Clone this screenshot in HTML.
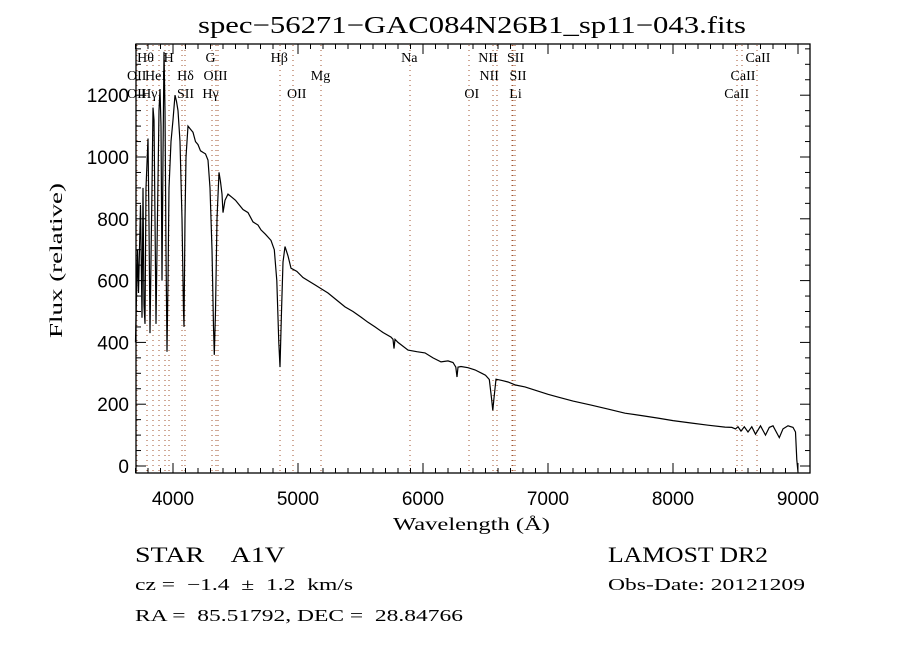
<!DOCTYPE html>
<html><head><meta charset="utf-8"><style>
html,body{margin:0;padding:0;background:#fff;}
svg{display:block;}
</style></head><body>
<svg id="chart" width="900" height="650" xmlns="http://www.w3.org/2000/svg">
<rect width="900" height="650" fill="#fff"/>
<text x="472" y="33" text-anchor="middle" font-family="Liberation Serif, serif" font-size="24" textLength="548" lengthAdjust="spacingAndGlyphs">spec−56271−GAC084N26B1_sp11−043.fits</text>
<g id="lines"></g>
<g id="labels" font-family="Liberation Serif, serif" font-size="14"></g>
<polyline id="spec" fill="none" stroke="#000" stroke-width="1.2"/>
<rect x="136" y="44" width="674" height="429" fill="none" stroke="#000" stroke-width="1.3"/>
<g id="axes"></g>
<text x="393" y="530" textLength="157" lengthAdjust="spacingAndGlyphs" font-family="Liberation Serif, serif" font-size="18">Wavelength (Å)</text>
<text transform="translate(62,338) rotate(-90)" textLength="155" lengthAdjust="spacingAndGlyphs" font-family="Liberation Serif, serif" font-size="18">Flux (relative)</text>
<text x="135" y="562" textLength="150" lengthAdjust="spacingAndGlyphs" xml:space="preserve" font-family="Liberation Serif, serif" font-size="22">STAR    A1V</text>
<text x="608" y="562" textLength="160" lengthAdjust="spacingAndGlyphs" font-family="Liberation Serif, serif" font-size="22">LAMOST DR2</text>
<text x="135" y="590" textLength="218" lengthAdjust="spacingAndGlyphs" xml:space="preserve" font-family="Liberation Serif, serif" font-size="17">cz =  −1.4  ±  1.2  km/s</text>
<text x="608" y="590" textLength="197" lengthAdjust="spacingAndGlyphs" font-family="Liberation Serif, serif" font-size="17">Obs-Date: 20121209</text>
<text x="135" y="621" textLength="328" lengthAdjust="spacingAndGlyphs" font-family="Liberation Serif, serif" font-size="17" xml:space="preserve">RA =  85.51792, DEC =  28.84766</text>
</svg>
<script>
const waves=[3700,3716,3724,3740,3752,3760,3768,3776,3784,3800,3808,3816,3832,3840,3848,3856,3864,3872,3888,3896,3904,3912,3920,3928,3936,3944,3952,3960,3968,3984,4000,4016,4028,4040,4056,4072,4084,4088,4096,4104,4120,4140,4160,4180,4200,4220,4240,4260,4280,4296,4312,4324,4330,4340,4352,4368,4380,4392,4400,4416,4440,4470,4500,4520,4560,4600,4640,4680,4704,4740,4784,4810,4830,4846,4856,4868,4880,4896,4920,4944,4990,5040,5100,5136,5200,5240,5300,5376,5440,5504,5560,5616,5680,5744,5760,5768,5776,5800,5880,5950,6016,6080,6144,6200,6240,6262,6272,6280,6304,6360,6416,6470,6500,6530,6548,6558,6568,6584,6630,6680,6740,6816,6900,7000,7080,7200,7344,7480,7616,7750,7880,8000,8144,8280,8416,8470,8500,8520,8544,8570,8600,8630,8660,8700,8740,8770,8800,8850,8880,8920,8960,8980,8990,9000];
const fluxes=[400,700,560,845,480,900,520,460,900,1060,780,430,900,1160,1120,800,460,700,1150,1220,1100,600,1000,1340,1150,700,370,600,900,1050,1120,1200,1180,1150,1050,800,500,450,800,1000,1100,1090,1080,1050,1040,1020,1015,1010,990,900,700,450,360,500,800,950,920,880,820,860,880,870,860,850,830,820,790,780,764,750,730,700,600,400,320,500,660,710,680,640,630,610,595,586,570,560,540,515,500,482,465,450,432,417,410,380,410,400,375,370,366,350,337,340,335,320,288,320,322,318,311,300,294,280,220,180,220,281,277,272,262,256,245,232,223,210,197,184,171,163,155,147,139,132,126,125,120,127,113,127,110,127,103,130,100,125,130,92,120,130,125,110,20,-20];
const lineWaves=[3712,3792,3840,3888,3936,3968,4072,4096,4312,4344,4360,4856,4960,5184,5896,6368,6560,6592,6712,6720,6736,8512,8552,8672];
const labelNames=["Hθ","H","G","Hβ","Na","NII","SII","CaII","OII","HeI","Hδ","OIII","Mg","NII","SII","CaII","OII","Hγ","SII","Hγ","OII","OI","Li","CaII"];
const labelWaves=[3780,3965,4300,4850,5890,6520,6740,8680,3710,3860,4100,4340,5180,6530,6760,8560,3710,3810,4100,4300,4990,6390,6740,8510];
const labelRows=[0,0,0,0,0,0,0,0,1,1,1,1,1,1,1,1,2,2,2,2,2,2,2,2];
const xTicks=[4000,5000,6000,7000,8000,9000];
const yTicks=[0,200,400,600,800,1000,1200];
const NS='http://www.w3.org/2000/svg';
const X=w=>173+(w-4000)*0.125;
const Y=f=>466-f*0.309;
const clampY=y=>Math.max(44,Math.min(473,y));
document.getElementById('spec').setAttribute('points',waves.map((w,i)=>X(w).toFixed(1)+','+clampY(Y(fluxes[i])).toFixed(1)).join(' '));
const lg=document.getElementById('lines');
lineWaves.forEach(w=>{const l=document.createElementNS(NS,'line');
l.setAttribute('x1',X(w));l.setAttribute('x2',X(w));l.setAttribute('y1',45);l.setAttribute('y2',472);
l.setAttribute('stroke','#a0522d');l.setAttribute('stroke-width','1');l.setAttribute('stroke-dasharray','1,4');


lg.appendChild(l);});
const lb=document.getElementById('labels');
labelNames.forEach((n,i)=>{const t=document.createElementNS(NS,'text');
t.setAttribute('x',X(labelWaves[i]));t.setAttribute('y',62+labelRows[i]*18);t.setAttribute('text-anchor','middle');
t.textContent=n;


lb.appendChild(t);});
const ax=document.getElementById('axes');
function ln(x1,y1,x2,y2){const l=document.createElementNS(NS,'line');l.setAttribute('x1',x1);l.setAttribute('y1',y1);l.setAttribute('x2',x2);l.setAttribute('y2',y2);l.setAttribute('stroke','#000');l.setAttribute('stroke-width','1');


ax.appendChild(l);}
for(let w=3700;w<=9050;w+=100){const big=w%1000===0;const x=X(w);ln(x,473,x,473-(big?10:5));ln(x,44,x,44+(big?10:5));}
for(let f=0;f<=1350;f+=50){const big=f%200===0;const y=Y(f);ln(136,y,136+(big?10:5),y);ln(810,y,810-(big?10:5),y);}
xTicks.forEach(w=>{const t=document.createElementNS(NS,'text');t.setAttribute('x',X(w));t.setAttribute('y',505);t.setAttribute('text-anchor','middle');t.setAttribute('font-family','Liberation Sans, sans-serif');t.setAttribute('font-size','19');t.textContent=w;


ax.appendChild(t);});
yTicks.forEach(f=>{const t=document.createElementNS(NS,'text');t.setAttribute('x',129);t.setAttribute('y',Y(f)+7);t.setAttribute('text-anchor','end');t.setAttribute('font-family','Liberation Sans, sans-serif');t.setAttribute('font-size','19');t.textContent=f;


ax.appendChild(t);});
</script>
</body></html>
